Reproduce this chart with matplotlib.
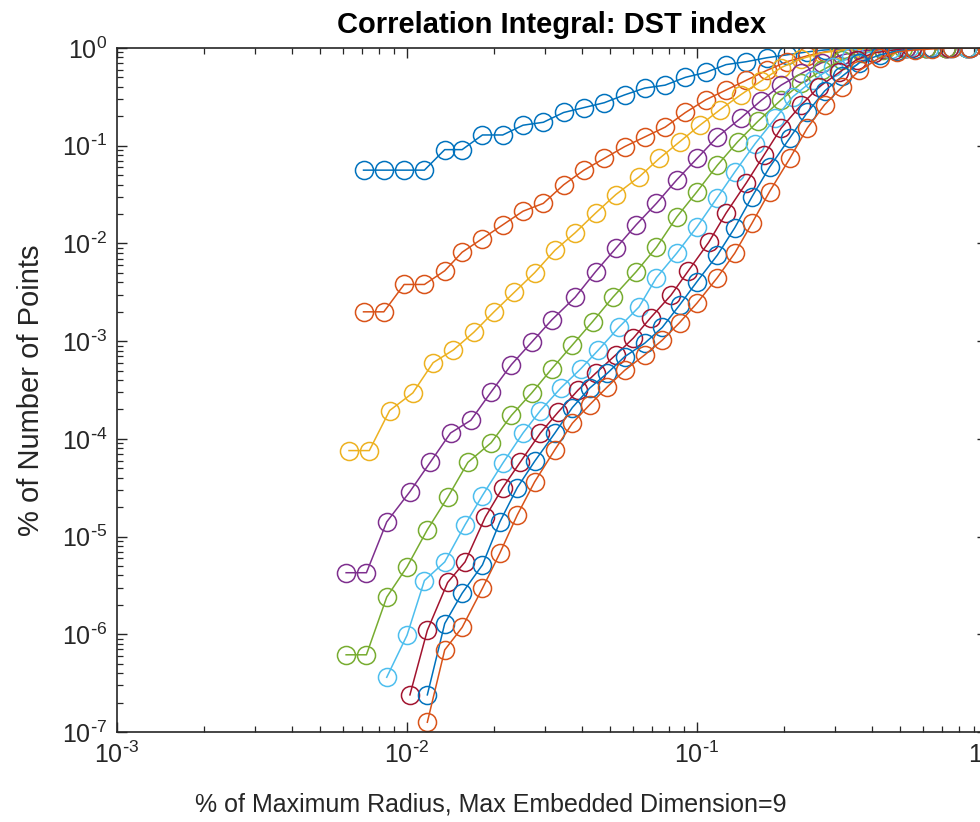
import numpy as np
import matplotlib
matplotlib.use("Agg")
import matplotlib.pyplot as plt
from matplotlib import ticker

plt.rcParams['font.family'] = ['Liberation Sans', 'DejaVu Sans']
plt.rcParams['mathtext.default'] = 'regular'

# log10 of radius (fraction of max radius)
log_r_d1 = [-2.15, -2.08, -2.01, -1.94, -1.87, -1.81, -1.74, -1.67, -1.60, -1.53, -1.46, -1.39, -1.32, -1.25, -1.18, -1.11,
            -1.04, -0.97, -0.90, -0.83, -0.76, -0.69, -0.62, -0.56, -0.49, -0.42, -0.35, -0.28, -0.21, -0.14, -0.07, 0.0]
log_r_d2 = log_r_d1
log_r_d3 = [-2.20, -2.13, -2.06, -1.98, -1.91, -1.84, -1.77, -1.70, -1.63, -1.56, -1.49, -1.42, -1.35, -1.28, -1.20, -1.13,
            -1.06, -0.99, -0.92, -0.85, -0.78, -0.71, -0.64, -0.57, -0.50, -0.43, -0.35, -0.28, -0.21, -0.14, -0.07, 0.0]
log_r_d4 = [-2.21, -2.14, -2.07, -1.99, -1.92, -1.85, -1.78, -1.71, -1.64, -1.57, -1.50, -1.42, -1.35, -1.28, -1.21, -1.14,
            -1.07, -1.00, -0.93, -0.85, -0.78, -0.71, -0.64, -0.57, -0.50, -0.43, -0.36, -0.28, -0.21, -0.14, -0.07, 0.0]
log_r_d5 = [-2.21, -2.14, -2.07, -2.00, -1.93, -1.86, -1.79, -1.71, -1.64, -1.57, -1.50, -1.43, -1.36, -1.29, -1.21, -1.14,
            -1.07, -1.00, -0.93, -0.86, -0.79, -0.71, -0.64, -0.57, -0.50, -0.43, -0.36, -0.29, -0.21, -0.14, -0.07, 0.0]
log_r_d6 = [-2.07, -2.00, -1.94, -1.87, -1.80, -1.74, -1.67, -1.60, -1.54, -1.47, -1.40, -1.34, -1.27, -1.20, -1.14, -1.07,
            -1.00, -0.93, -0.87, -0.80, -0.73, -0.67, -0.60, -0.53, -0.47, -0.40, -0.33, -0.27, -0.20, -0.13, -0.07, 0.0]
log_r_d7 = [-1.99, -1.93, -1.86, -1.80, -1.73, -1.67, -1.61, -1.54, -1.48, -1.41, -1.35, -1.28, -1.22, -1.16, -1.09, -1.03,
            -0.96, -0.90, -0.83, -0.77, -0.71, -0.64, -0.58, -0.51, -0.45, -0.39, -0.32, -0.26, -0.19, -0.13, -0.06, 0.0]
log_r_d8 = [-1.93, -1.87, -1.81, -1.74, -1.68, -1.62, -1.56, -1.49, -1.43, -1.37, -1.31, -1.25, -1.18, -1.12, -1.06, -1.00,
            -0.93, -0.87, -0.81, -0.75, -0.68, -0.62, -0.56, -0.50, -0.44, -0.37, -0.31, -0.25, -0.19, -0.12, -0.06, 0.0]
log_r_d9 = log_r_d8

# log10 of correlation integral (fraction of point pairs)
log_c_d1 = [-1.25, -1.25, -1.25, -1.25, -1.04, -1.04, -0.89, -0.89, -0.79, -0.76, -0.66, -0.61, -0.56, -0.48, -0.41, -0.38,
            -0.30, -0.25, -0.17, -0.14, -0.10, -0.07, -0.04, -0.02, -0.01, -0.005, 0, 0, 0, 0, 0, 0]
log_c_d2 = [-2.70, -2.70, -2.42, -2.42, -2.28, -2.09, -1.95, -1.81, -1.67, -1.59, -1.40, -1.25, -1.13, -1.01, -0.91, -0.81,
            -0.66, -0.53, -0.43, -0.33, -0.23, -0.14, -0.08, -0.04, -0.02, -0.01, 0, 0, 0, 0, 0, 0]
log_c_d3 = [-4.12, -4.12, -3.71, -3.53, -3.22, -3.09, -2.91, -2.70, -2.50, -2.30, -2.07, -1.89, -1.69, -1.50, -1.32, -1.13,
            -0.96, -0.79, -0.63, -0.48, -0.34, -0.20, -0.11, -0.05, -0.02, -0.01, 0, 0, 0, 0, 0, 0]
log_c_d4 = [-5.37, -5.37, -4.85, -4.54, -4.24, -3.94, -3.81, -3.52, -3.24, -3.01, -2.78, -2.55, -2.29, -2.05, -1.81, -1.59,
            -1.35, -1.13, -0.91, -0.72, -0.54, -0.38, -0.26, -0.15, -0.07, -0.03, -0.01, 0, 0, 0, 0, 0]
log_c_d5 = [-6.21, -6.21, -5.62, -5.31, -4.93, -4.60, -4.24, -4.04, -3.76, -3.53, -3.28, -3.04, -2.80, -2.55, -2.29, -2.04,
            -1.73, -1.47, -1.20, -0.96, -0.75, -0.53, -0.36, -0.23, -0.12, -0.05, -0.02, 0, 0, 0, 0, 0]
log_c_d6 = [-6.44, -6.01, -5.45, -5.26, -4.88, -4.58, -4.25, -3.94, -3.71, -3.48, -3.28, -3.09, -2.86, -2.65, -2.35, -2.10,
            -1.83, -1.53, -1.27, -0.98, -0.72, -0.50, -0.33, -0.19, -0.09, -0.04, -0.01, 0, 0, 0, 0, 0]
log_c_d7 = [-6.62, -5.96, -5.47, -5.26, -4.80, -4.50, -4.24, -3.94, -3.73, -3.50, -3.33, -3.14, -2.97, -2.76, -2.53, -2.28,
            -1.99, -1.69, -1.38, -1.10, -0.82, -0.58, -0.40, -0.25, -0.12, -0.05, -0.02, 0, 0, 0, 0, 0]
log_c_d8 = [-6.62, -5.89, -5.58, -5.29, -4.85, -4.50, -4.23, -3.94, -3.68, -3.48, -3.33, -3.16, -3.02, -2.86, -2.63, -2.39,
            -2.12, -1.84, -1.52, -1.22, -0.92, -0.66, -0.44, -0.29, -0.15, -0.07, -0.03, -0.01, 0, 0, 0, 0]
log_c_d9 = [-6.90, -6.16, -5.93, -5.53, -5.17, -4.78, -4.44, -4.11, -3.84, -3.65, -3.47, -3.30, -3.14, -2.99, -2.81, -2.61,
            -2.35, -2.10, -1.79, -1.47, -1.13, -0.82, -0.58, -0.40, -0.23, -0.10, -0.04, -0.02, -0.01, 0, 0, 0]

# matlab default colour order
colors = ['#0072BD', '#D95319', '#EDB120', '#7E2F8E', '#77AC30', '#4DBEEE', '#A2142F', '#0072BD', '#D95319']

radii = [log_r_d1, log_r_d2, log_r_d3, log_r_d4, log_r_d5, log_r_d6, log_r_d7, log_r_d8, log_r_d9]
corr = [log_c_d1, log_c_d2, log_c_d3, log_c_d4, log_c_d5, log_c_d6, log_c_d7, log_c_d8, log_c_d9]


def decade_label(v, pos):
    e = int(round(np.log10(v)))
    if e < 0:
        return r'$10^{\text{-}%d}$' % (-e)
    return r'$10^{%d}$' % e


fig = plt.figure(figsize=(9.8, 8.22), dpi=100)
ax = fig.add_axes([0.1194, 0.1095, 0.8878, 0.8321])

for lr, lc, col in zip(radii, corr, colors):
    ax.loglog(10 ** np.array(lr), 10 ** np.array(lc), '-o', color=col, mfc='none',
              ms=13, mew=1.1, lw=1.1)

ax.set_xlim(1e-3, 1)
ax.set_ylim(1e-7, 1)

ax.xaxis.set_major_locator(ticker.LogLocator(base=10, numticks=20))
ax.yaxis.set_major_locator(ticker.LogLocator(base=10, numticks=20))
ax.xaxis.set_minor_locator(ticker.LogLocator(base=10, subs=np.arange(2, 10), numticks=100))
ax.yaxis.set_minor_locator(ticker.LogLocator(base=10, subs=np.arange(2, 10), numticks=100))
ax.xaxis.set_major_formatter(ticker.FuncFormatter(decade_label))
ax.yaxis.set_major_formatter(ticker.FuncFormatter(decade_label))
ax.xaxis.set_minor_formatter(ticker.NullFormatter())
ax.yaxis.set_minor_formatter(ticker.NullFormatter())

ax.tick_params(which='both', direction='in', top=True, right=True, color='#262626', labelcolor='#262626')
ax.tick_params(which='major', length=7, width=1.0, labelsize=18, pad=7)
ax.tick_params(which='minor', length=4, width=0.9)
for sp in ax.spines.values():
    sp.set_linewidth(1.2)
    sp.set_color('#262626')

ax.set_title('Correlation Integral: DST index', fontsize=21, fontweight='bold', pad=11)
ax.set_xlabel('% of Maximum Radius, Max Embedded Dimension=9', fontsize=18, color='#262626')
ax.set_ylabel('% of Number of Points', fontsize=21, color='#262626')
ax.xaxis.set_label_coords(0.43, -0.088)
ax.yaxis.set_label_coords(-0.083, 0.5)

fig.savefig('out.png', dpi=100)
